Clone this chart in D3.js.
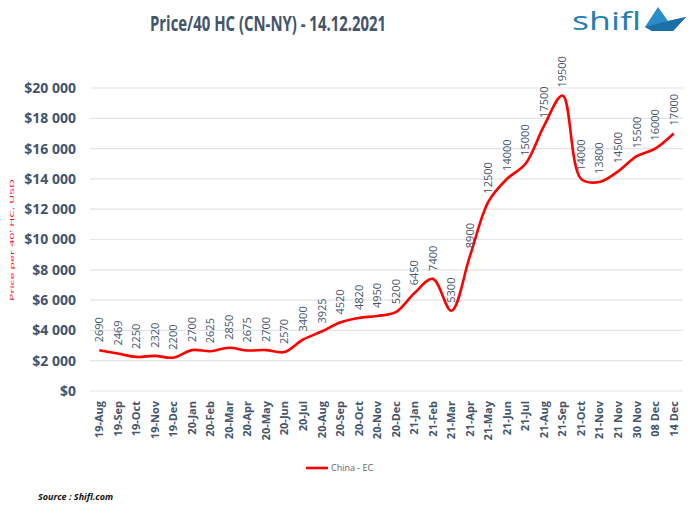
<!DOCTYPE html>
<html><head><meta charset="utf-8">
<script src="https://cdn.jsdelivr.net/npm/d3@7"></script>
<style>body{margin:0;background:#fff}svg{display:block}</style>
</head><body>
<svg id="c" width="690" height="508"></svg>
<script>
const categories = ["19-Aug","19-Sep","19-Oct","19-Nov","19-Dec","20-Jan","20-Feb","20-Mar","20-Apr","20-May","20-Jun","20-Jul","20-Aug","20-Sep","20-Oct","20-Nov","20-Dec","21-Jan","21-Feb","21-Mar","21-Apr","21-May","21-Jun","21-Jul","21-Aug","21-Sep","21-Oct","21-Nov","21 Nov","30 Nov","08 Dec","14 Dec"];
const values = [2690,2469,2250,2320,2200,2700,2625,2850,2675,2700,2570,3400,3925,4520,4820,4950,5200,6450,7400,5300,8900,12500,14000,15000,17500,19500,14000,13800,14500,15500,16000,17000];
const yTicks = [0,2000,4000,6000,8000,10000,12000,14000,16000,18000,20000];
const seriesName = "China - EC";
const title = "Price/40 HC (CN-NY) - 14.12.2021";
const source = "Source : Shifl.com";

const svg = d3.select("#c");
const txt = "#44546a";
const x = d3.scaleBand().domain(categories).range([90, 683]);
const y = d3.scaleLinear().domain([0, 20000]).range([391, 88]);

// grid
svg.append("g").selectAll("line").data(yTicks).join("line")
  .attr("x1", 90).attr("x2", 683)
  .attr("y1", d => y(d)).attr("y2", d => y(d))
  .attr("stroke", "#e4e4ea").attr("stroke-width", 1.2);

// y axis
const fmt = d => "$" + (d >= 1000 ? d3.format(",")(d).replace(/,/g, " ") : d);
const ya = svg.append("g").attr("transform", "translate(76,0)")
  .call(d3.axisLeft(y).tickValues(yTicks).tickFormat(fmt).tickSize(0).tickPadding(0));
ya.select(".domain").remove();
ya.selectAll("text").attr("fill", txt).attr("font-family", "Open Sans").attr("font-weight", "bold").attr("font-size", 14);

// x axis
const xa = svg.append("g").attr("transform", "translate(0,398)")
  .call(d3.axisBottom(x).tickSize(0).tickPadding(0));
xa.select(".domain").remove();
xa.selectAll("text")
  .attr("fill", txt).attr("font-family", "Open Sans").attr("font-weight", "bold").attr("font-size", 11)
  .attr("text-anchor", "end").attr("transform", "rotate(-90)")
  .attr("x", -3).attr("y", 0).attr("dy", "0.35em");

// line
const pts = categories.map((c, i) => [x(c) + x.bandwidth() / 2, y(values[i])]);
svg.append("path").attr("d", d3.line().curve(d3.curveCatmullRom.alpha(0.5))(pts))
  .attr("fill", "none").attr("stroke", "#ff0000").attr("stroke-width", 2.6);

// data labels
svg.append("g").selectAll("text").data(categories).join("text")
  .attr("transform", (c, i) => `translate(${x(c) + x.bandwidth() / 2},${y(values[i]) - 8}) rotate(-90)`)
  .attr("dy", "0.35em")
  .attr("font-family", "Open Sans").attr("font-size", 11).attr("fill", txt)
  .text((c, i) => values[i]);

// title
svg.append("text").attr("x", 268).attr("y", 31).attr("text-anchor", "middle")
  .attr("font-family", "Open Sans").attr("font-weight", "bold").attr("font-size", 21)
  .attr("fill", txt).attr("textLength", 236).attr("lengthAdjust", "spacingAndGlyphs").text(title);

// logo
svg.append("text").attr("x", 572).attr("y", 30).attr("font-family", "Open Sans").attr("font-size", 26)
  .attr("fill", "#1f7fb4").attr("textLength", 69).attr("lengthAdjust", "spacingAndGlyphs").text("shifl");
svg.append("path").attr("d", "M645,27 L658,7 L668,21 L686,17 L673,31 L652,31 Z").attr("fill", "#2a8cc8");
svg.append("path").attr("d", "M645,27 L668,21 L686,17 L673,31 L652,31 Z").attr("fill", "#1b6fa6");

// faint red axis title artifact
svg.append("text").attr("transform", "translate(14,240) rotate(-90)").attr("text-anchor", "middle")
  .attr("font-family", "Open Sans").attr("font-size", 6).attr("fill", "#ff0000")
  .attr("textLength", 122).attr("lengthAdjust", "spacingAndGlyphs").text("Price per 40' HC, USD");

// legend
svg.append("line").attr("x1", 306).attr("x2", 328).attr("y1", 468).attr("y2", 468)
  .attr("stroke", "#ff0000").attr("stroke-width", 2.6);
svg.append("text").attr("x", 331).attr("y", 471).attr("font-family", "Open Sans").attr("font-size", 9)
  .attr("fill", "#666").text(seriesName);

// source
svg.append("text").attr("x", 38).attr("y", 500).attr("font-family", "Open Sans").attr("font-size", 9)
  .attr("font-weight", "bold").attr("font-style", "italic").attr("fill", "#111").text(source);
</script>
</body></html>
